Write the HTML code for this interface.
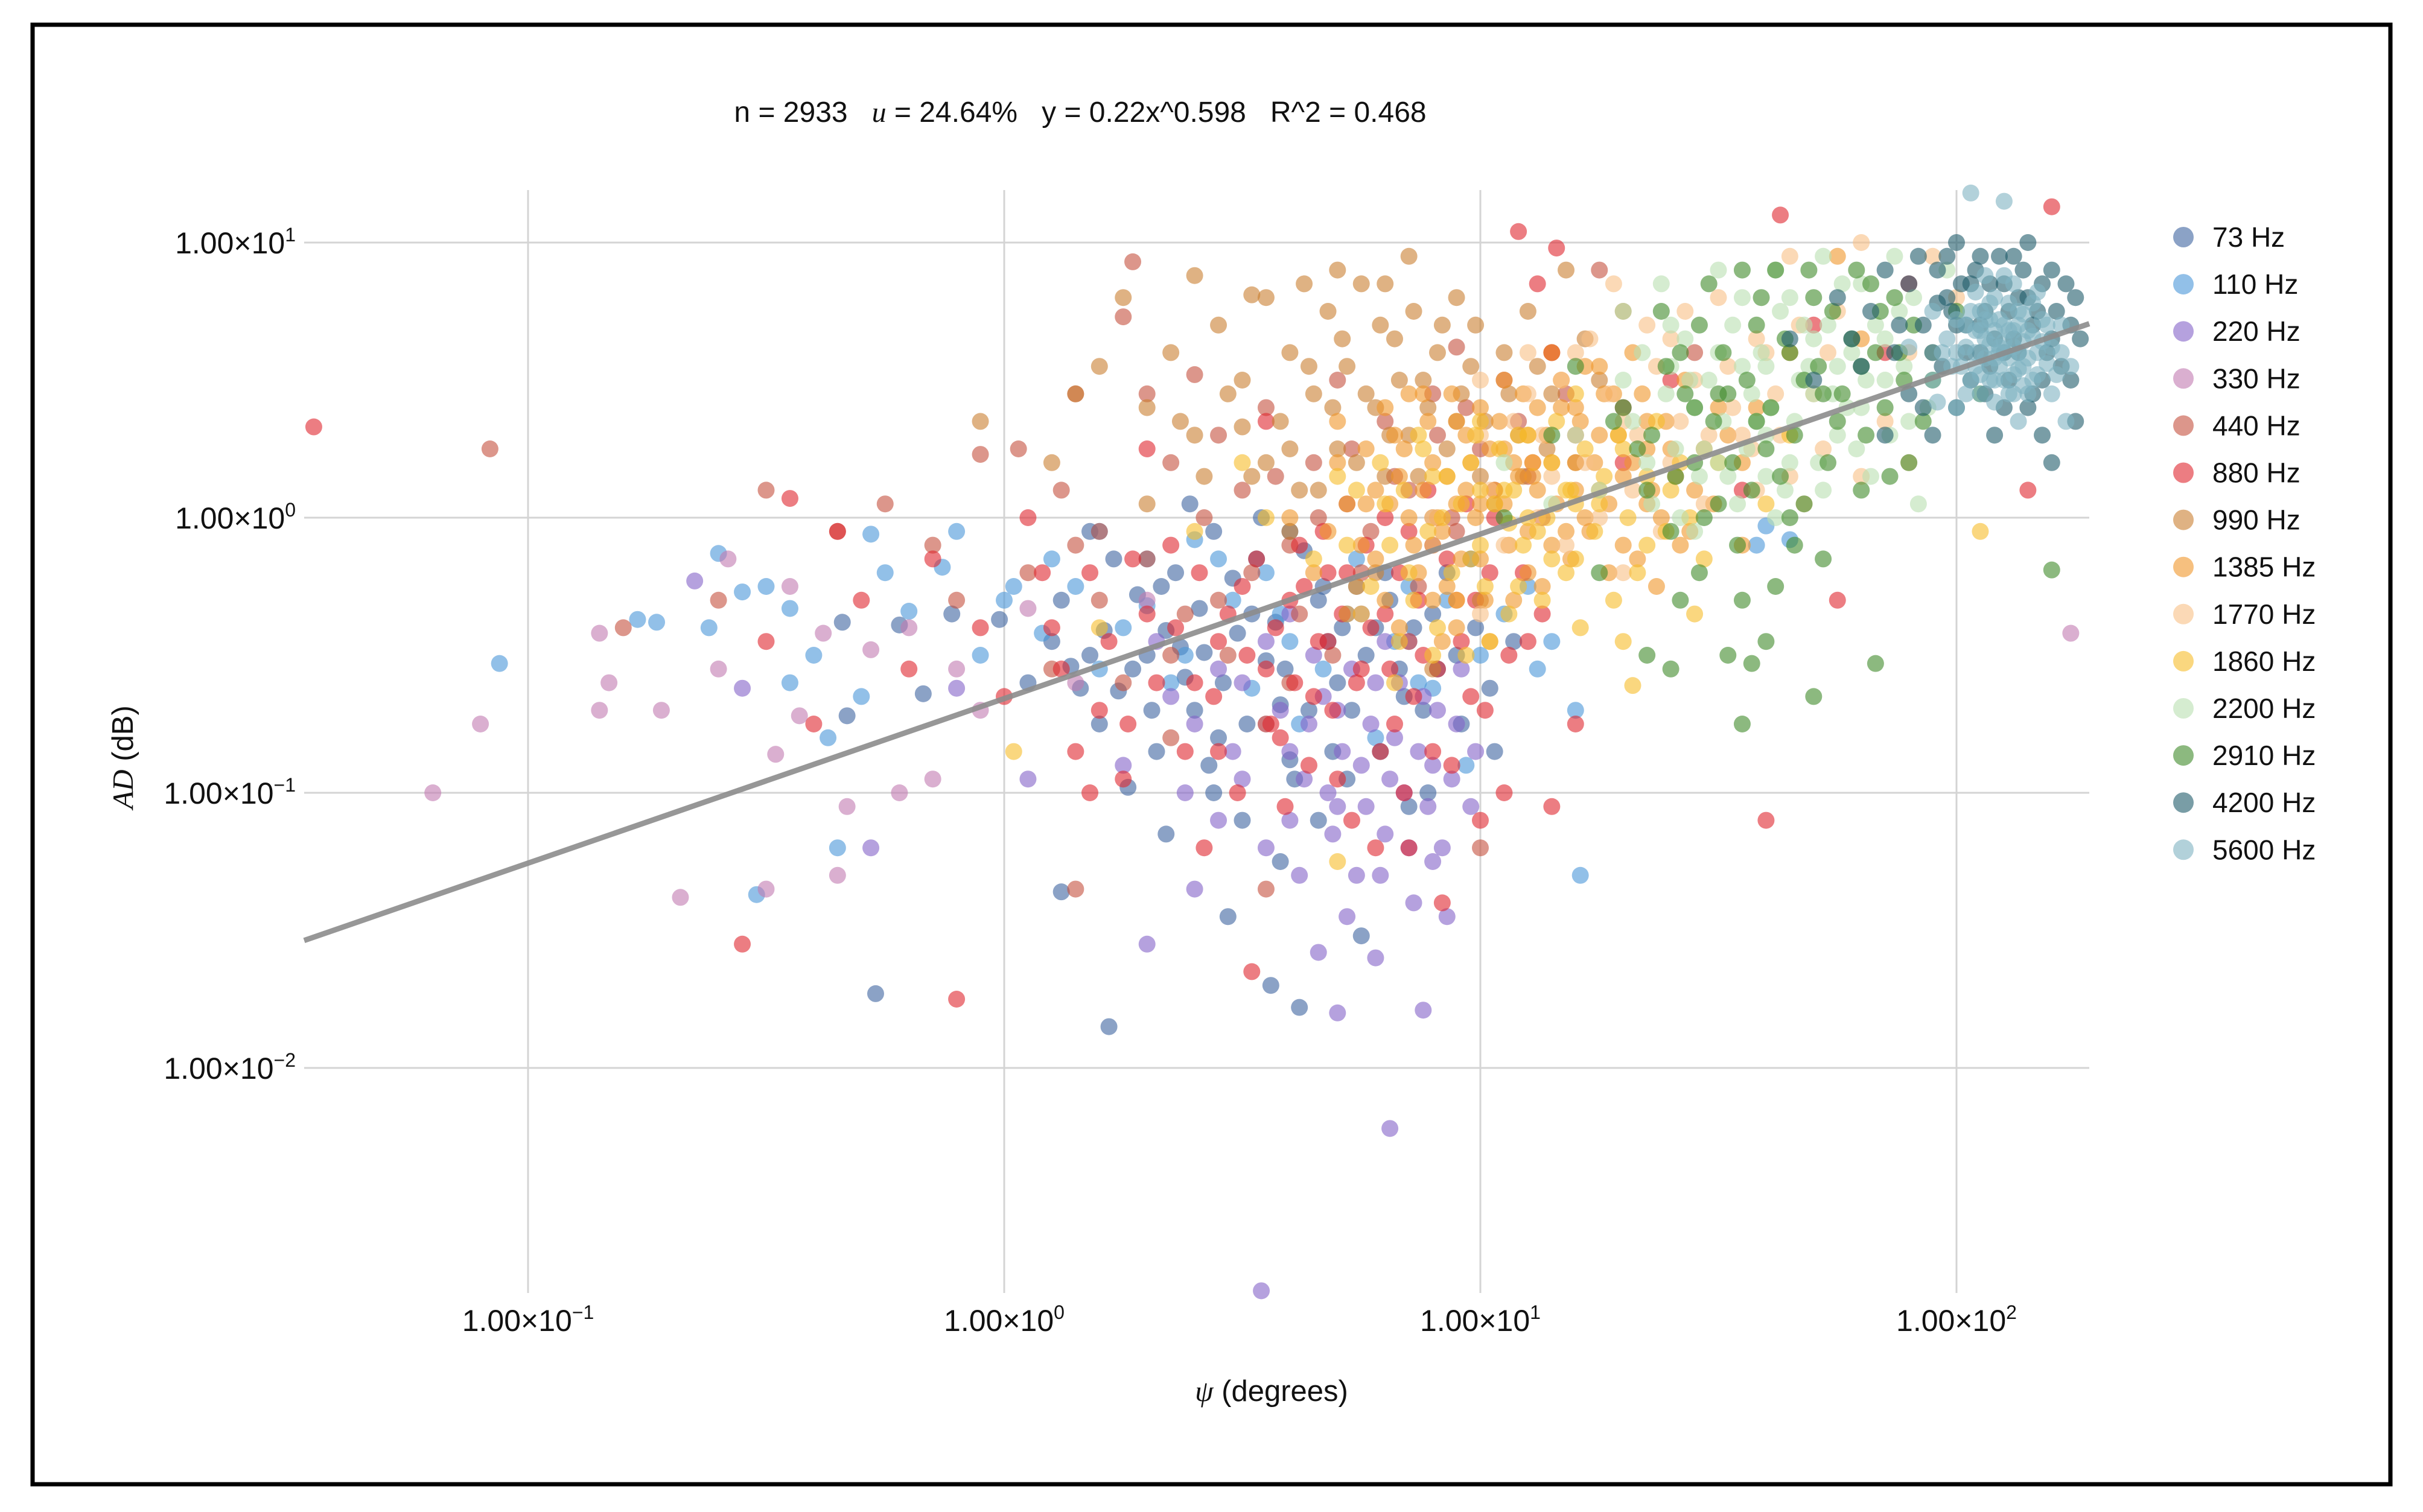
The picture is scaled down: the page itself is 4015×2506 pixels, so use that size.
<!DOCTYPE html>
<html><head><meta charset="utf-8"><style>
html,body{margin:0;padding:0;background:#fff;}
svg{display:block;font-family:"Liberation Sans",sans-serif;}
</style></head><body>
<svg id="chart" width="4015" height="2506" viewBox="0 0 4015 2506" xmlns="http://www.w3.org/2000/svg">
<rect x="54" y="41" width="3907" height="2419" fill="#fff" stroke="#000" stroke-width="7"/>
<text x="1790" y="202" font-size="48" text-anchor="middle" fill="#111">n = 2933 &#160; <tspan font-family="Liberation Serif" font-style="italic">u</tspan> = 24.64% &#160; y = 0.22x^0.598 &#160; R^2 = 0.468</text>
<g id="grid"></g>
<g id="ticks"></g>
<g id="points"></g>
<g id="trend"></g>
<g id="legend"></g>
<text x="2107" y="2322" font-size="49" text-anchor="middle" fill="#111"><tspan font-family="Liberation Serif" font-style="italic">ψ</tspan> (degrees)</text>
<text transform="translate(220,1255) rotate(-90)" font-size="49" text-anchor="middle" fill="#111"><tspan font-family="Liberation Serif" font-style="italic">AD</tspan> (dB)</text>
</svg>
<script>
const seriesLabels = ["73 Hz","110 Hz","220 Hz","330 Hz","440 Hz","880 Hz","990 Hz","1385 Hz","1770 Hz","1860 Hz","2200 Hz","2910 Hz","4200 Hz","5600 Hz"];
const xTickExps = [-1,0,1,2];
const yTickExps = [1,0,-1,-2];
const fitCoef = 0.22;
const fitExp = 0.598;
// values given as [log10 psi, log10 AD]
const s73 = [[-0.34,-0.38],[-0.22,-0.39],[-0.11,-0.35],[-0.33,-0.72],[-0.27,-1.73],[-0.17,-0.64],[0.05,-0.60],[-0.01,-0.37],[0.1,-0.45],[0.18,-0.5],[0.14,-0.54],[0.24,-0.63],[0.12,-1.36],[0.22,-1.85],[0.28,-0.28],[0.34,-0.41],[0.38,-0.58],[0.42,-0.49],[0.45,-0.8],[0.48,-0.22],[0.52,-0.35],[0.55,-0.52],[0.58,-0.68],[0.6,-0.88],[0.63,-0.12],[0.66,-0.3],[0.68,-0.45],[0.7,-0.6],[0.72,-0.95],[0.75,-1.52],[0.78,-0.4],[0.8,-0.2],[0.83,-0.55],[0.85,-1.05],[0.88,-0.7],[0.9,-0.35],[0.95,-0.5],[0.98,-0.15],[1.02,-0.62],[1.07,-0.45],[0.4,-0.7],[0.5,-1.1],[0.47,-1.45],[0.56,-1.7],[0.62,-1.78],[0.32,-0.85],[0.26,-0.98],[0.36,-0.2],[0.6,-0.05],[0.74,-0.25],[0.2,-0.75],[0.44,-1.0],[0.3,-0.5],
[0.12,-0.3],[0.16,-0.62],[0.21,-0.41],[0.27,-0.55],[0.31,-0.7],[0.33,-0.25],[0.37,-0.47],[0.41,-0.33],[0.43,-0.9],[0.46,-0.6],[0.49,-0.42],[0.51,-0.75],[0.53,-0.15],[0.57,-0.38],[0.59,-0.55],[0.61,-0.95],[0.64,-0.7],[0.67,-0.25],[0.69,-0.85],[0.71,-0.4],[0.73,-0.7],[0.76,-0.5],[0.79,-0.85],[0.81,-0.3],[0.84,-0.65],[0.86,-0.4],[0.89,-1.0],[0.91,-0.55],[0.93,-0.2],[0.96,-0.75],[0.99,-0.4],[1.03,-0.85],[0.18,-0.05],[0.23,-0.15],[0.39,0.05],[0.44,-0.05],[0.54,0.0],[0.34,-1.15],[0.58,-1.25],[0.66,-1.1]];
const s110 = [[-1.06,-0.53],[-0.77,-0.37],[-0.73,-0.38],[-0.62,-0.4],[-0.55,-0.27],[-0.5,-0.25],[-0.45,-0.33],[-0.28,-0.06],[-0.25,-0.2],[-0.2,-0.34],[-0.13,-0.18],[-0.3,-0.65],[-0.35,-1.2],[-0.52,-1.37],[-0.37,-0.8],[-0.05,-0.5],[0.02,-0.25],[0.08,-0.42],[0.2,-0.05],[0.3,-0.15],[0.4,-0.08],[0.48,-0.3],[0.25,-0.4],[0.6,-0.45],[0.72,-0.35],[0.85,-0.25],[0.9,-0.62],[1.05,-0.35],[1.12,-0.55],[1.2,-0.7],[1.21,-1.3],[1.6,-0.03],[1.58,-0.1],[1.65,-0.08],[0.35,-0.6],[0.55,-0.2],[-0.4,-0.5],[0.15,-0.25],[-0.6,-0.13],[-0.45,-0.6],
[0.3,-0.32],[0.38,-0.5],[0.45,-0.15],[0.52,-0.62],[0.58,-0.35],[0.62,-0.75],[0.67,-0.55],[0.74,-0.15],[0.78,-0.8],[0.82,-0.45],[0.87,-0.6],[0.93,-0.3],[0.97,-0.9],[1.0,-0.5],[1.1,-0.25],[1.15,-0.45],[0.2,-0.55],[0.1,-0.15],[-0.1,-0.05],[0.0,-0.3]];
const s220 = [[-0.65,-0.23],[-0.55,-0.62],[-0.28,-1.2],[-0.1,-0.62],[0.05,-0.95],[0.25,-0.9],[0.32,-0.45],[0.4,-0.75],[0.45,-1.1],[0.5,-0.6],[0.55,-1.2],[0.6,-0.85],[0.62,-1.3],[0.65,-0.5],[0.68,-1.0],[0.7,-0.7],[0.72,-1.45],[0.75,-0.9],[0.78,-0.6],[0.8,-1.15],[0.82,-0.8],[0.84,-1.0],[0.86,-1.4],[0.88,-0.65],[0.9,-0.9],[0.92,-1.2],[0.95,-0.75],[0.78,-1.6],[0.7,-1.8],[0.88,-1.79],[0.81,-2.22],[0.54,-2.81],[0.3,-1.55],[0.6,-0.35],[0.85,-0.45],[0.98,-1.05],[0.74,-1.3],[0.66,-1.58],[0.5,-0.95],[0.4,-1.35],
[0.55,-0.45],[0.58,-0.7],[0.63,-0.95],[0.67,-0.65],[0.69,-1.15],[0.71,-0.85],[0.73,-0.55],[0.76,-1.05],[0.77,-0.75],[0.79,-1.3],[0.81,-0.95],[0.83,-0.6],[0.85,-1.2],[0.87,-0.85],[0.89,-1.05],[0.91,-0.7],[0.93,-1.45],[0.94,-0.95],[0.96,-0.55],[0.99,-0.85],[0.45,-0.55],[0.48,-0.85],[0.35,-0.65],[0.38,-1.0],[0.6,-1.1],[0.64,-0.75],[0.8,-0.45],[0.75,-0.35],[0.7,-1.05],[0.9,-1.25]];
const s330 = [[-1.2,-1.0],[-1.1,-0.75],[-0.85,-0.42],[-0.85,-0.7],[-0.83,-0.6],[-0.72,-0.7],[-0.68,-1.38],[-0.5,-1.35],[-0.48,-0.86],[-0.45,-0.25],[-0.43,-0.72],[-0.35,-1.3],[-0.33,-1.05],[-0.28,-0.48],[-0.22,-1.0],[-0.2,-0.4],[-0.1,-0.55],[-0.05,-0.7],[0.05,-0.33],[0.15,-0.6],[0.3,-0.3],[-0.58,-0.15],[-0.38,-0.42],[2.24,-0.42],[0.9,-0.1],[0.55,-0.75],[-0.15,-0.95],[-0.6,-0.55]];
const s440 = [[-1.08,0.25],[-0.6,-0.3],[-0.8,-0.4],[-0.25,0.05],[-0.35,-0.05],[-0.05,0.23],[0.03,0.25],[0.15,0.45],[0.25,0.73],[0.3,0.45],[0.4,0.52],[-0.1,-0.3],[0.12,0.1],[0.2,-0.05],[0.35,0.2],[0.45,0.3],[0.5,0.1],[0.55,0.4],[0.6,-0.1],[0.65,0.2],[0.7,0.5],[0.72,0.05],[0.75,-0.2],[0.8,0.35],[0.85,0.1],[0.9,0.45],[0.95,-0.05],[1.0,0.25],[1.05,0.5],[1.1,0.15],[1.15,0.6],[1.2,0.3],[1.3,0.4],[1.45,0.6],[0.55,-1.35],[0.35,-0.8],[0.25,-0.6],[0.1,-0.55],[0.45,-0.3],[0.85,-0.45],[1.0,-1.2],[0.15,-1.35],[0.6,-0.6],[0.95,0.62],[-0.5,0.1],[-0.15,-0.1],[1.25,0.9],[0.27,0.93],
[0.3,-0.15],[0.38,-0.35],[0.42,0.0],[0.47,-0.5],[0.52,-0.2],[0.57,0.15],[0.62,-0.35],[0.66,0.0],[0.69,-0.5],[0.73,0.25],[0.77,-0.05],[0.82,0.15],[0.87,-0.25],[0.91,0.3],[0.94,0.0],[0.97,0.4],[1.03,0.1],[1.08,0.35],[1.13,0.0],[1.18,0.45],[0.2,-0.3],[0.15,-0.1],[0.05,-0.2],[0.35,-0.5],[0.55,-0.75]];
const s880 = [[-1.45,0.33],[-0.45,0.07],[-0.35,-0.05],[-0.2,-0.55],[-0.4,-0.75],[-0.5,-0.45],[-0.55,-1.55],[-0.1,-1.75],[-0.3,-0.3],[-0.15,-0.15],[0.0,-0.65],[0.05,0.0],[0.1,-0.4],[0.18,-0.2],[0.2,-0.7],[0.25,-0.95],[0.3,-0.35],[0.35,-0.1],[0.4,-0.6],[0.42,-1.2],[0.45,-0.45],[0.5,-0.25],[0.52,-1.65],[0.55,-0.55],[0.58,-0.8],[0.6,-0.3],[0.62,-0.1],[0.65,-0.65],[0.68,-0.45],[0.7,-0.95],[0.72,-0.2],[0.75,-0.55],[0.78,-1.2],[0.8,-0.35],[0.82,-0.75],[0.85,-0.05],[0.88,-0.5],[0.9,-0.85],[0.92,-1.4],[0.95,-0.3],[0.98,-0.65],[1.02,-0.2],[1.05,-1.0],[1.1,-0.45],[1.15,-1.05],[1.2,-0.75],[1.15,0.6],[1.12,0.85],[1.16,0.98],[1.3,0.2],[1.4,0.5],[1.6,-1.1],[1.55,0.1],[1.7,0.7],[1.75,-0.3],[1.85,0.6],[2.2,1.13],[2.15,0.1],[1.9,0.85],[0.3,0.25],[0.55,0.35],[0.45,-0.85],[0.15,-0.85],[-0.05,-0.4],[0.68,-0.2],[0.8,0.0],[1.63,1.1],[1.08,1.04],
[0.22,-0.45],[0.27,-0.15],[0.32,-0.6],[0.36,-0.4],[0.38,-0.85],[0.41,-0.2],[0.44,-0.65],[0.47,-0.35],[0.49,-1.0],[0.51,-0.5],[0.53,-0.15],[0.56,-0.75],[0.57,-0.4],[0.59,-1.05],[0.61,-0.6],[0.63,-0.25],[0.64,-0.9],[0.66,-0.45],[0.67,-0.05],[0.69,-0.7],[0.71,-0.35],[0.73,-1.1],[0.74,-0.6],[0.76,-0.1],[0.77,-0.4],[0.79,-0.85],[0.81,-0.55],[0.83,-0.2],[0.84,-1.0],[0.86,-0.65],[0.87,-0.3],[0.89,0.1],[0.91,-0.55],[0.93,-0.15],[0.94,-0.9],[0.96,-0.45],[0.97,0.05],[0.99,-0.3],[1.01,-0.7],[1.03,0.0],[1.06,-0.5],[1.09,-0.2],[1.11,0.2],[1.13,-0.35],[0.26,-0.75],[0.12,-0.55],[0.08,-0.2],[0.18,-1.0],[1.0,-1.1],[0.85,-1.2]];
const s990 = [[-0.05,0.35],[0.1,0.2],[0.2,0.55],[0.3,0.4],[0.35,0.6],[0.4,0.3],[0.45,0.7],[0.5,0.5],[0.52,0.15],[0.55,0.8],[0.58,0.35],[0.6,0.6],[0.62,0.1],[0.65,0.45],[0.68,0.75],[0.7,0.25],[0.72,0.55],[0.75,0.85],[0.78,0.4],[0.8,0.15],[0.82,0.65],[0.85,0.3],[0.88,0.5],[0.9,0.0],[0.92,0.7],[0.95,0.35],[0.98,0.55],[1.0,0.15],[1.05,0.6],[1.08,0.3],[1.1,0.75],[1.15,0.45],[1.2,0.2],[1.25,0.5],[0.4,0.88],[0.5,0.33],[0.25,0.8],[0.78,-0.2],[0.9,-0.55],[0.6,-0.05],[1.0,-0.3],[0.3,0.05],[0.85,0.95],[0.7,0.9],[1.3,0.75],[0.15,0.45],[0.95,0.8],[1.18,0.9],[0.52,0.81],
[0.6,0.25],[0.64,0.55],[0.66,0.1],[0.69,0.4],[0.71,0.65],[0.74,0.2],[0.76,0.45],[0.79,0.7],[0.81,0.3],[0.83,0.5],[0.86,0.75],[0.87,0.15],[0.89,0.4],[0.91,0.6],[0.93,0.25],[0.96,0.45],[0.99,0.7],[1.01,0.35],[1.03,0.05],[1.06,0.45],[1.09,0.15],[1.12,0.55],[1.14,0.25],[0.55,0.2],[0.47,0.45],[0.42,0.15],[0.37,0.35],[0.63,0.85],[0.8,0.85],[1.22,0.65]];
const s1385 = [[0.6,0.0],[0.65,-0.2],[0.7,0.2],[0.75,-0.1],[0.78,0.1],[0.8,-0.3],[0.82,0.3],[0.85,0.0],[0.87,-0.2],[0.9,0.2],[0.92,-0.05],[0.95,0.35],[0.97,0.1],[1.0,-0.15],[1.02,0.25],[1.05,0.05],[1.07,-0.3],[1.1,0.3],[1.12,0.1],[1.15,-0.1],[1.17,0.4],[1.2,0.2],[1.22,0.0],[1.25,0.3],[1.27,-0.2],[1.3,0.15],[1.35,0.35],[1.38,0.0],[1.4,0.25],[1.45,0.1],[1.5,0.4],[0.88,0.45],[0.95,-0.4],[1.05,0.5],[1.15,0.6],[1.25,0.55],[0.72,-0.35],[1.33,-0.15],[1.0,0.05],[0.98,0.2],[1.08,0.15],[1.18,-0.05],[1.28,0.45],[0.83,0.15],[0.93,-0.25],[1.42,-0.1],[1.55,0.2],[1.65,0.6],[1.8,0.65],[1.75,0.95],[0.76,0.05],[0.9,-0.1],[1.1,-0.2],[1.2,0.4],[1.35,0.05],[0.68,-0.05],
[0.7,0.35],[0.72,0.05],[0.74,-0.25],[0.76,0.25],[0.78,-0.15],[0.8,0.4],[0.81,0.05],[0.83,-0.4],[0.84,0.25],[0.86,-0.1],[0.88,0.1],[0.89,0.35],[0.9,-0.3],[0.91,0.0],[0.93,0.15],[0.94,0.45],[0.96,-0.15],[0.97,0.3],[0.99,0.0],[1.0,0.4],[1.01,-0.3],[1.03,0.1],[1.04,0.35],[1.06,-0.1],[1.07,0.2],[1.09,0.45],[1.1,-0.05],[1.11,0.15],[1.13,-0.25],[1.14,0.3],[1.16,0.05],[1.17,0.5],[1.19,-0.15],[1.2,0.1],[1.21,0.35],[1.23,-0.05],[1.24,0.2],[1.26,0.45],[1.27,0.05],[1.29,0.3],[1.3,-0.1],[1.32,0.2],[1.34,0.45],[1.36,0.1],[1.37,-0.25],[1.39,0.35],[1.41,0.15],[1.43,0.5],[1.44,-0.05],[1.47,0.25],[1.49,0.05],[1.52,0.3],[1.55,-0.1],[1.58,0.4],[0.85,0.45],[0.95,0.05],[1.05,0.25],[1.15,0.2],[1.25,0.1],[1.35,0.25],[0.92,-0.45],[1.02,-0.45],[1.12,0.4],[1.22,0.55],[1.32,0.6]];
const s1770 = [[0.9,0.0],[1.0,0.3],[1.05,-0.1],[1.1,0.45],[1.15,0.15],[1.2,0.6],[1.25,0.0],[1.3,0.35],[1.35,0.7],[1.4,0.2],[1.45,0.5],[1.5,0.8],[1.55,0.3],[1.6,0.6],[1.65,0.95],[1.7,0.45],[1.75,0.75],[1.8,1.0],[1.85,0.35],[1.9,0.6],[1.95,0.95],[1.3,-0.2],[1.0,-0.35],[1.65,0.15],[2.0,0.8],[1.2,0.3],[1.4,0.65],[1.8,0.15],[1.58,0.1],[1.9,0.2],
[1.02,0.1],[1.07,0.35],[1.12,0.0],[1.17,0.5],[1.22,0.2],[1.27,0.45],[1.32,0.1],[1.37,0.55],[1.42,0.35],[1.47,0.05],[1.52,0.55],[1.57,0.25],[1.62,0.45],[1.67,0.7],[1.72,0.25],[1.13,0.3],[1.23,0.65],[1.33,0.3],[1.43,0.75],[1.53,0.4],[1.63,0.3],[1.73,0.6],[1.0,0.5],[1.1,0.6],[1.28,0.85],[1.18,-0.1],[1.38,-0.05],[1.48,0.3],[1.58,0.65],[1.68,0.05]];
const s1860 = [[0.55,0.0],[0.65,-0.15],[0.7,0.15],[0.75,-0.35],[0.8,0.05],[0.85,-0.2],[0.88,0.25],[0.9,-0.5],[0.92,0.0],[0.95,-0.3],[0.98,0.2],[1.0,-0.1],[1.02,-0.45],[1.05,0.1],[1.08,-0.25],[1.1,0.3],[1.12,-0.05],[1.15,0.2],[1.2,-0.15],[1.25,0.05],[1.3,0.25],[1.35,-0.1],[1.4,0.1],[1.45,-0.35],[1.5,0.2],[0.7,-1.25],[0.2,-0.4],[0.02,-0.85],[0.4,-0.05],[1.0,0.35],[1.32,-0.61],[1.6,0.05],[2.05,-0.05],[0.82,-0.6],[0.5,0.2],[1.2,0.45],[1.65,0.3],[1.06,-0.02],[1.18,0.1],
[0.72,-0.1],[0.74,0.1],[0.77,-0.25],[0.79,0.2],[0.81,-0.1],[0.83,-0.45],[0.84,0.1],[0.86,-0.3],[0.87,0.3],[0.89,-0.05],[0.91,-0.4],[0.93,0.15],[0.94,-0.2],[0.96,0.05],[0.97,-0.5],[0.99,0.3],[1.01,-0.25],[1.03,0.05],[1.04,0.25],[1.06,-0.35],[1.07,0.1],[1.09,-0.1],[1.11,0.2],[1.13,-0.3],[1.14,0.0],[1.16,0.35],[1.18,-0.2],[1.19,0.1],[1.21,-0.4],[1.22,0.25],[1.24,-0.05],[1.26,0.15],[1.28,-0.3],[1.29,0.3],[1.31,0.0],[1.33,-0.2],[1.35,0.15],[1.37,0.35],[1.39,-0.05],[1.42,0.2],[1.44,0.0],[1.47,-0.15],[0.9,0.15],[1.0,0.1],[1.1,0.0],[1.2,0.05],[0.98,-0.15],[1.08,0.3],[1.15,-0.15],[1.3,-0.45]];
const s2200 = [[1.2,0.3],[1.25,0.1],[1.3,0.5],[1.35,0.2],[1.4,0.7],[1.42,0.0],[1.45,0.4],[1.5,0.6],[1.52,0.15],[1.55,0.8],[1.58,0.35],[1.6,0.55],[1.62,0.9],[1.65,0.2],[1.68,0.7],[1.7,0.45],[1.72,0.95],[1.75,0.3],[1.78,0.6],[1.8,0.85],[1.82,0.15],[1.85,0.5],[1.88,0.75],[1.9,0.35],[1.95,0.6],[1.98,0.9],[1.5,0.9],[1.38,0.85],[1.62,0.0],[1.45,-0.05],[1.3,0.75],[1.72,0.1],[1.15,0.05],[1.05,0.2],[1.57,0.45],[1.67,0.5],[1.47,0.25],[1.77,0.4],[1.87,0.95],[1.92,0.05],
[1.32,0.35],[1.34,0.6],[1.36,0.05],[1.39,0.45],[1.41,0.25],[1.43,0.65],[1.46,0.15],[1.48,0.5],[1.51,0.35],[1.53,0.7],[1.54,0.05],[1.56,0.25],[1.59,0.6],[1.61,0.4],[1.63,0.75],[1.64,0.1],[1.66,0.35],[1.69,0.55],[1.71,0.2],[1.73,0.7],[1.74,0.45],[1.76,0.85],[1.79,0.25],[1.81,0.5],[1.83,0.7],[1.86,0.3],[1.89,0.55],[1.91,0.8],[1.94,0.4],[1.44,0.5],[1.5,0.2],[1.55,0.55],[1.6,0.15],[1.65,0.8],[1.7,0.65],[1.75,0.55],[1.8,0.4],[1.85,0.65],[1.4,0.55],[1.6,0.3]];
const s2910 = [[1.05,0.0],[1.15,0.3],[1.2,0.55],[1.25,-0.2],[1.3,0.4],[1.35,0.1],[1.38,0.75],[1.4,-0.05],[1.42,0.6],[1.45,0.2],[1.48,0.85],[1.5,0.05],[1.52,0.45],[1.55,-0.3],[1.58,0.7],[1.6,0.25],[1.62,0.9],[1.65,0.0],[1.68,0.5],[1.7,0.8],[1.72,-0.15],[1.75,0.35],[1.78,0.65],[1.8,0.1],[1.82,0.85],[1.85,0.4],[1.88,0.6],[1.9,0.2],[1.95,0.5],[1.6,-0.45],[1.55,-0.75],[1.4,-0.55],[1.35,-0.5],[1.57,-0.53],[1.83,-0.53],[2.05,0.45],[2.0,0.75],[1.45,0.4],[1.65,0.6],[1.55,0.9],[1.33,0.25],[2.2,-0.19],[1.52,-0.5],[1.7,-0.65],[1.28,0.35],
[1.36,0.3],[1.39,0.55],[1.41,0.15],[1.43,0.45],[1.46,0.7],[1.47,0.0],[1.49,0.35],[1.51,0.6],[1.53,0.2],[1.56,0.5],[1.57,0.1],[1.59,0.8],[1.61,0.4],[1.63,0.15],[1.64,0.65],[1.66,0.3],[1.69,0.9],[1.71,0.55],[1.73,0.2],[1.74,0.75],[1.76,0.45],[1.79,0.9],[1.81,0.3],[1.83,0.6],[1.84,0.75],[1.86,0.15],[1.89,0.5],[1.91,0.7],[1.93,0.35],[1.54,-0.1],[1.46,-0.2],[1.62,-0.25],[1.68,0.05],[1.58,0.35],[1.72,0.45],[1.8,0.55],[1.87,0.8],[1.5,0.45],[1.42,-0.3],[1.66,-0.1]];
const s4200 = [[1.75,0.8],[1.8,0.55],[1.85,0.9],[1.88,0.7],[1.9,0.45],[1.92,0.95],[1.95,0.6],[1.98,0.8],[2.0,0.4],[2.02,0.7],[2.05,0.95],[2.07,0.55],[2.1,0.85],[2.12,0.65],[2.15,0.4],[2.17,0.75],[2.2,0.9],[2.22,0.55],[2.24,0.7],[2.0,1.0],[2.08,0.3],[2.18,0.3],[1.95,0.3],[1.85,0.3],[2.05,0.7],[2.1,0.6],[2.13,0.8],[2.2,0.2],[1.7,0.5],[1.65,0.65],[2.25,0.35],[2.15,1.0],[2.03,0.85],
[1.9,0.85],[1.93,0.7],[1.96,0.9],[1.97,0.55],[1.99,0.75],[2.01,0.85],[2.02,0.6],[2.04,0.9],[2.06,0.75],[2.06,0.45],[2.08,0.65],[2.09,0.95],[2.11,0.75],[2.11,0.5],[2.13,0.6],[2.14,0.9],[2.16,0.7],[2.16,0.45],[2.18,0.85],[2.19,0.6],[2.21,0.75],[2.23,0.85],[2.24,0.5],[2.26,0.65],[1.82,0.75],[1.87,0.6],[1.98,0.95],[2.03,0.5],[2.12,0.95],[2.2,0.65],[1.78,0.65],[1.93,0.4],[2.05,0.6],[2.15,0.8],[2.25,0.8],[2.18,0.5],[2.0,0.7],[2.07,0.85],[1.96,0.78],[2.1,0.4]];
const s5600 = [[2.0,0.6],[2.02,0.7],[2.04,0.55],[2.05,0.75],[2.06,0.65],[2.07,0.5],[2.08,0.8],[2.09,0.6],[2.1,0.7],[2.11,0.45],[2.12,0.62],[2.13,0.75],[2.14,0.55],[2.15,0.68],[2.16,0.5],[2.17,0.6],[2.18,0.72],[2.05,0.45],[2.0,0.4],[1.95,0.5],[1.95,0.75],[2.2,0.45],[2.22,0.6],[2.1,0.88],[2.13,0.35],[1.9,0.62],[2.04,0.68],[2.08,0.58],[2.12,0.52],[2.03,1.18],[2.1,1.15],[2.23,0.35],[1.98,0.65],[2.07,0.72],[2.14,0.64],
[2.01,0.55],[2.02,0.62],[2.03,0.75],[2.04,0.6],[2.05,0.52],[2.05,0.68],[2.06,0.72],[2.06,0.58],[2.07,0.63],[2.07,0.78],[2.08,0.5],[2.08,0.68],[2.09,0.72],[2.09,0.55],[2.1,0.64],[2.1,0.5],[2.11,0.58],[2.11,0.78],[2.12,0.68],[2.12,0.45],[2.13,0.6],[2.13,0.7],[2.14,0.48],[2.14,0.74],[2.15,0.58],[2.16,0.66],[2.16,0.78],[2.17,0.52],[2.18,0.64],[2.19,0.56],[2.19,0.7],[2.2,0.62],[2.21,0.52],[2.03,0.5],[2.04,0.82],[2.02,0.45],[1.99,0.55],[1.97,0.6],[2.0,0.72],[2.15,0.45],[2.17,0.82],[2.22,0.7],[2.08,0.42],[2.12,0.85],[2.06,0.88],[1.96,0.42],[2.24,0.55],[2.09,0.62],[2.11,0.68],[2.13,0.54]];
const seriesData = [s73,s110,s220,s330,s440,s880,s990,s1385,s1770,s1860,s2200,s2910,s4200,s5600];
const seriesColors = ["#3d64a0","#4a96d8","#8463c8","#c17ab0","#c4503d","#e0262e","#c97f30","#f0962a","#f8bf85","#f6bd2a","#b9dfb0","#3f8a2a","#1f5c6b","#7fb3c2"];

const NS = "http://www.w3.org/2000/svg";
const PL = 504, PR = 3462, PT = 315, PB = 2143;
const X0 = 1664, XD = 789, Y0 = 858, YD = 456;
const xs = lx => X0 + lx * XD;
const ys = ly => Y0 - ly * YD;
const lxMin = (PL - X0) / XD, lxMax = (PR - X0) / XD;
function mk(tag, attrs, parent) {
  const e = document.createElementNS(NS, tag);
  for (const k in attrs) e.setAttribute(k, attrs[k]);
  parent.appendChild(e);
  return e;
}
const grid = document.getElementById('grid');
const ticks = document.getElementById('ticks');
xTickExps.forEach(ex => {
  const l = mk('line', {x1: xs(ex), x2: xs(ex), y1: PT, y2: PB, stroke: '#d4d4d4', 'stroke-width': 3}, grid);
  
  
  const t = mk('text', {x: xs(ex), y: 2206, 'font-size': 50, 'text-anchor': 'middle', fill: '#111'}, ticks);
  
  
  t.textContent = '1.00×10';
  const s = mk('tspan', {'font-size': 32, dy: -20}, t);
  s.textContent = ex < 0 ? '−' + (-ex) : String(ex);
});
yTickExps.forEach(ex => {
  const l = mk('line', {x1: PL, x2: PR, y1: ys(ex), y2: ys(ex), stroke: '#d4d4d4', 'stroke-width': 3}, grid);
  
  
  const t = mk('text', {x: 490, y: ys(ex) + 18, 'font-size': 50, 'text-anchor': 'end', fill: '#111'}, ticks);
  
  
  t.textContent = '1.00×10';
  const s = mk('tspan', {'font-size': 32, dy: -20}, t);
  s.textContent = ex < 0 ? '−' + (-ex) : String(ex);
});
const pts = document.getElementById('points');
seriesData.forEach((arr, i) => {
  const g = mk('g', {fill: seriesColors[i], 'fill-opacity': 0.6}, pts);
  
  
  arr.forEach(p => {
    const c = mk('circle', {cx: xs(p[0]), cy: ys(p[1]), r: 14}, g);
    
    
  });
});
const tr = document.getElementById('trend');
const yFit = lx => Math.log10(fitCoef) + fitExp * lx;
const tl = mk('line', {x1: xs(lxMin), y1: ys(yFit(lxMin)), x2: xs(lxMax), y2: ys(yFit(lxMax)), stroke: '#8c8c8c', 'stroke-opacity': 0.9, 'stroke-width': 9}, tr);


const lg = document.getElementById('legend');
seriesLabels.forEach((lab, i) => {
  const g = mk('g', {}, lg);
  
  
  const y = 393 + i * 78.1;
  mk('circle', {cx: 3618, cy: y, r: 17, fill: seriesColors[i], 'fill-opacity': 0.6}, g);
  const t = mk('text', {x: 3666, y: y + 16, 'font-size': 46, fill: '#111'}, g);
  t.textContent = lab;
});
</script>
</body></html>
